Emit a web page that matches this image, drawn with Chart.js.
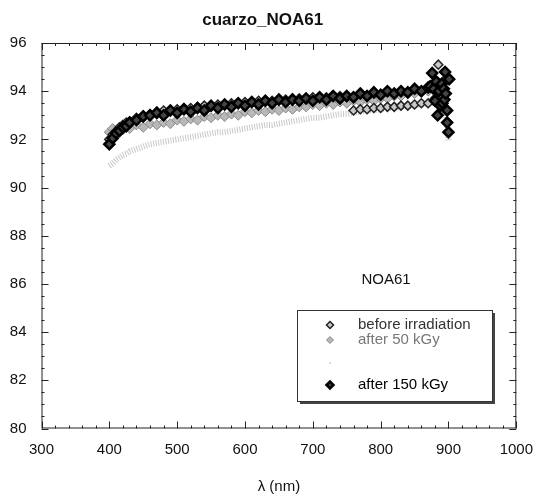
<!DOCTYPE html>
<html>
<head>
<meta charset="utf-8">
<script src="https://cdn.jsdelivr.net/npm/chart.js@4.4.1/dist/chart.umd.min.js"></script>
<style>
  html, body { margin: 0; padding: 0; background: #fff; }
</style>
</head>
<body>
<canvas id="chart" width="545" height="501"></canvas>
<script>
// wavelengths (nm) shared by the main part of every curve
const lambda = [400,405,410,415,420,425,430,440,450,460,470,480,490,500,510,520,530,540,550,560,570,580,590,600,610,620,630,640,650,660,670,680,690,700,710,720,730,740,750,760,770,780,790,800,810,820,830,840,850,860,870];

const before = [92.0,92.2,92.35,92.5,92.6,92.7,92.75,92.9,93.0,93.05,93.15,93.2,93.2,93.25,93.3,93.3,93.35,93.4,93.4,93.45,93.45,93.5,93.5,93.55,93.55,93.6,93.6,93.6,93.65,93.65,93.7,93.7,93.7,93.75,93.75,93.75,93.8,93.8,93.75,93.2,93.25,93.25,93.3,93.3,93.35,93.35,93.4,93.4,93.45,93.5,93.5];
const after50 = [92.3,92.45,92.35,92.5,92.4,92.55,92.45,92.6,92.5,92.65,92.6,92.7,92.65,92.8,92.75,92.85,92.8,92.95,92.9,93.0,92.95,93.05,93.0,93.15,93.1,93.2,93.15,93.25,93.2,93.3,93.25,93.35,93.35,93.45,93.4,93.5,93.45,93.55,93.5,93.6,93.55,93.65,93.6,93.7,93.7,93.8,93.8,93.9,93.9,94.0,94.0];
const after100 = [90.9,91.0,91.15,91.25,91.35,91.4,91.5,91.6,91.7,91.8,91.85,91.9,91.95,92.0,92.05,92.1,92.15,92.2,92.25,92.3,92.3,92.35,92.4,92.45,92.5,92.55,92.6,92.6,92.65,92.7,92.75,92.8,92.85,92.9,92.9,92.95,93.0,93.05,93.05,93.1,93.15,93.2,93.2,93.25,93.3,93.3,93.35,93.4,93.4,93.45,93.5];
const after150 = [91.8,92.05,92.25,92.35,92.5,92.55,92.7,92.8,92.95,93.0,93.1,93.0,93.2,93.1,93.25,93.15,93.3,93.2,93.4,93.3,93.45,93.35,93.5,93.4,93.55,93.45,93.6,93.5,93.65,93.55,93.65,93.6,93.7,93.6,93.75,93.65,93.8,93.7,93.8,93.75,93.9,93.8,93.95,93.85,94.0,93.9,94.0,93.95,94.1,94.0,94.15];

// noisy ends of the curves near 900 nm
const beforeTailX = [880,885,888,892,896,899];
const beforeTailY = [93.7,95.1,94.2,94.4,93.9,92.7];
const after50TailX = [878,884,890,895];
const after50TailY = [94.2,94.4,94.3,94.1];
const after100TailX = [880,890,898,900];
const after100TailY = [93.5,93.55,92.6,91.9];
const after150TailX = [873,876,878,880,882,884,886,888,890,891,893,894,895,896,898,898,900,901];
const after150TailY = [94.2,94.75,94.1,93.6,94.4,93.0,94.0,93.4,94.3,93.5,94.1,93.65,94.8,93.9,92.7,93.2,92.3,94.5];

const seriesLabels = ["before irradiation", "after 50 kGy", "", "after 150 kGy"];
const xTicks = [300, 1000, 100];
const yTicks = [80, 96, 2];

const FONT = "'Liberation Sans', Arial, Helvetica, sans-serif";

function toPoints(xs, ys, tx, ty) {
    const pts = xs.map((x, i) => ({ x: x, y: ys[i] }));
    return pts.concat(tx.map((x, i) => ({ x: x, y: ty[i] })));
}

// inward ticks on all four sides plus the frame
const frameTicks = {
    id: "frameTicks",
    afterDatasetsDraw(chart) {
        const { ctx, chartArea: a, scales: { x, y } } = chart;
        ctx.save();
        ctx.strokeStyle = "#222";
        ctx.lineWidth = 1;
        ctx.strokeRect(a.left + 0.5, a.top + 0.5, a.right - a.left - 1, a.bottom - a.top - 1);
        ctx.beginPath();
        for (let v = xTicks[0]; v <= xTicks[1]; v += 20) {
            const px = Math.round(x.getPixelForValue(v)) + 0.5;
            const len = v % 100 === 0 ? 7 : 3;
            ctx.moveTo(px, a.bottom); ctx.lineTo(px, a.bottom - len);
            ctx.moveTo(px, a.top); ctx.lineTo(px, a.top + len);
        }
        for (let v = yTicks[0]; v <= yTicks[1]; v += 0.5) {
            const py = Math.round(y.getPixelForValue(v)) + 0.5;
            const len = v % 2 === 0 ? 7 : 3;
            ctx.moveTo(a.left, py); ctx.lineTo(a.left + len, py);
            ctx.moveTo(a.right, py); ctx.lineTo(a.right - len, py);
        }
        ctx.stroke();
        ctx.restore();
    }
};

// legend box with shadow and the "NOA61" note inside the plot
const boxLegend = {
    id: "boxLegend",
    afterDraw(chart) {
        const { ctx, scales: { x, y } } = chart;
        ctx.save();
        ctx.fillStyle = "#111";
        ctx.font = "15px " + FONT;
        ctx.textAlign = "center";
        ctx.textBaseline = "middle";
        ctx.fillText("NOA61", x.getPixelForValue(808), y.getPixelForValue(86.15));

        const bx = 297, by = 310, bw = 195, bh = 91;
        ctx.fillStyle = "#444";
        ctx.fillRect(bx + 3, by + 3, bw, bh);
        ctx.fillStyle = "#fff";
        ctx.fillRect(bx, by, bw, bh);
        ctx.strokeStyle = "#333";
        ctx.lineWidth = 1;
        ctx.strokeRect(bx + 0.5, by + 0.5, bw, bh);

        const rows = [15, 30, 53, 75];
        const textColors = ["#333", "#777", "#999", "#000"];
        ctx.textAlign = "left";
        chart.data.datasets.forEach((ds, i) => {
            const ry = by + rows[i];
            ctx.fillStyle = ds.pointBackgroundColor;
            ctx.strokeStyle = ds.pointBorderColor;
            ctx.lineWidth = ds.legendBorder;
            Chart.helpers.drawPoint(ctx, {
                pointStyle: "rectRot",
                radius: ds.legendRadius,
                borderWidth: ds.legendBorder,
                rotation: 0
            }, bx + 33, ry);
            ctx.fillStyle = textColors[i];
            ctx.fillText(ds.label, bx + 61, ry);
        });
        ctx.restore();
    }
};

new Chart(document.getElementById("chart"), {
    type: "scatter",
    data: {
        datasets: [
            {
                label: seriesLabels[0],
                data: toPoints(lambda, before, beforeTailX, beforeTailY),
                pointStyle: "rectRot",
                pointRadius: 4.5,
                pointBackgroundColor: "#c8c8c8",
                pointBorderColor: "#222",
                pointBorderWidth: 1.5,
                legendRadius: 3.5, legendBorder: 1.5,
                order: 1
            },
            {
                label: seriesLabels[1],
                data: toPoints(lambda, after50, after50TailX, after50TailY),
                pointStyle: "rectRot",
                pointRadius: 5,
                pointBackgroundColor: "#b8b8b8",
                pointBorderColor: "#8a8a8a",
                pointBorderWidth: 1,
                legendRadius: 3.5, legendBorder: 1,
                order: 2
            },
            {
                label: seriesLabels[2],
                data: toPoints(lambda, after100, after100TailX, after100TailY),
                showLine: true,
                borderColor: "#c8c8c8",
                borderWidth: 6,
                borderDash: [1, 1.5],
                pointRadius: 0,
                pointBackgroundColor: "#bbb",
                pointBorderColor: "#bbb",
                legendRadius: 1, legendBorder: 0,
                order: 3
            },
            {
                label: seriesLabels[3],
                data: toPoints(lambda, after150, after150TailX, after150TailY),
                pointStyle: "rectRot",
                pointRadius: 5,
                pointBackgroundColor: "#444",
                pointBorderColor: "#000",
                pointBorderWidth: 2.5,
                legendRadius: 3.5, legendBorder: 2.5,
                order: 0
            }
        ]
    },
    options: {
        responsive: false,
        animation: false,
        events: [],
        layout: { padding: { left: 0, right: 19.5, top: 0, bottom: 0 } },
        plugins: {
            legend: { display: false },
            tooltip: { enabled: false },
            title: {
                display: true,
                text: "cuarzo_NOA61",
                color: "#111",
                font: { family: FONT, size: 17, weight: "bold" },
                padding: { top: 10, bottom: 12.6 }
            }
        },
        scales: {
            x: {
                type: "linear",
                min: xTicks[0],
                max: xTicks[1],
                grid: { display: false, drawTicks: false },
                border: { display: false },
                ticks: {
                    stepSize: xTicks[2],
                    padding: 12,
                    color: "#111",
                    maxRotation: 0,
                    font: { family: FONT, size: 15 },
                    callback: v => String(v)
                },
                title: {
                    display: true,
                    text: "λ (nm)",
                    color: "#111",
                    font: { family: FONT, size: 15 },
                    padding: { top: 0, bottom: 5 }
                },
                afterFit(scale) { scale.height = 72.5; }
            },
            y: {
                type: "linear",
                min: yTicks[0],
                max: yTicks[1],
                grid: { display: false, drawTicks: false },
                border: { display: false },
                ticks: {
                    stepSize: yTicks[2],
                    padding: 15,
                    color: "#111",
                    font: { family: FONT, size: 15 }
                },
                afterFit(scale) { scale.width = 41.5; }
            }
        }
    },
    plugins: [frameTicks, boxLegend]
});
</script>
</body>
</html>
